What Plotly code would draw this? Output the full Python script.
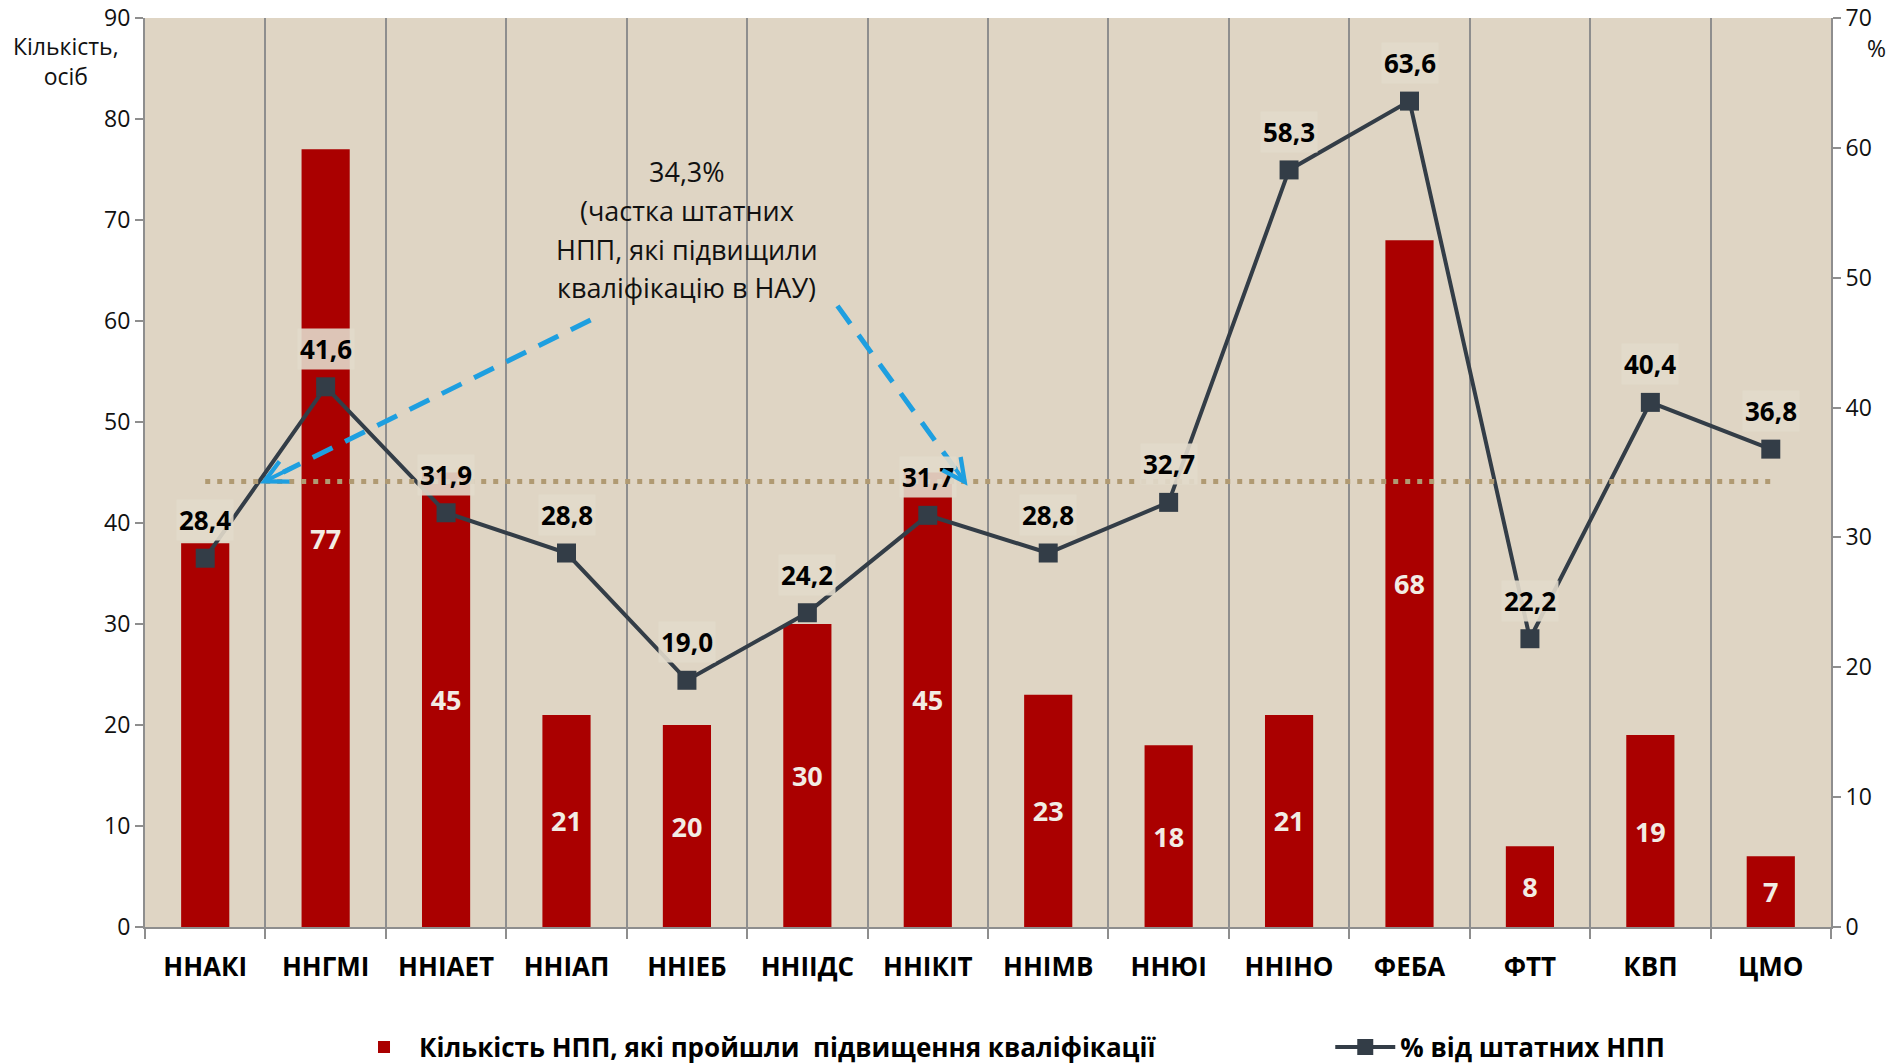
import plotly.graph_objects as go

# Institutes / faculties
categories = ["ННАКІ", "ННГМІ", "ННІАЕТ", "ННІАП", "ННІЕБ", "ННІІДС", "ННІКІТ",
              "ННІМВ", "ННЮІ", "ННІНО", "ФЕБА", "ФТТ", "КВП", "ЦМО"]
# Number of teaching staff who completed professional development
staff_count = [38, 77, 45, 21, 20, 30, 45, 23, 18, 21, 68, 8, 19, 7]
# Share of full-time teaching staff, %
staff_share = [28.4, 41.6, 31.9, 28.8, 19.0, 24.2, 31.7, 28.8, 32.7, 58.3, 63.6, 22.2, 40.4, 36.8]
# University-wide share, %
overall_share = 34.3
note_lines = ["34,3%", "(частка штатних", "НПП, які підвищили", "кваліфікацію в НАУ)"]

bar_name = "Кількість НПП, які пройшли  підвищення кваліфікації"
line_name = "% від штатних НПП"

FONT = "Open Sans, Noto Sans, DejaVu Sans, sans-serif"
BAR_COLOR = "#AA0000"
LINE_COLOR = "#333D47"
GRID = "#8E8E8E"
ARROW = "#1E9FE0"

bar_text = [""] + [str(v) for v in staff_count[1:]]

fig = go.Figure()
fig.add_trace(go.Bar(
    x=categories, y=staff_count, name=bar_name, legend="legend",
    marker=dict(color=BAR_COLOR, line=dict(width=0)),
    width=0.4,
    text=bar_text, textposition="inside", insidetextanchor="middle",
    textfont=dict(family=FONT, size=27, color="#F2ECE4", weight="bold"),
    cliponaxis=False,
))
fig.add_trace(go.Scatter(
    x=categories, y=staff_share, name=line_name, yaxis="y2", legend="legend2",
    mode="lines+markers",
    line=dict(color=LINE_COLOR, width=4),
    marker=dict(symbol="square", size=19, color=LINE_COLOR),
))

# Reference level across all units
fig.add_shape(type="line", xref="x", yref="y2",
              x0=0, x1=len(categories) - 1, y0=overall_share, y1=overall_share,
              line=dict(color="#B09A72", width=5, dash="5px,7px"), layer="above")

# Value labels above the line markers
for c, v in zip(categories, staff_share):
    fig.add_annotation(x=c, y=v, yref="y2", text=f"{v:.1f}".replace(".", ","),
                       showarrow=False, yshift=38,
                       font=dict(family=FONT, size=26, color="#000000", weight="bold"),
                       bgcolor="rgba(226,218,203,0.9)", borderpad=2)

# Note text
note_y = [74.8, 70.9, 67.1, 63.3]
for line, yy in zip(note_lines, note_y):
    fig.add_annotation(x=4, y=yy, xref="x", yref="y", text=line, showarrow=False,
                       font=dict(family=FONT, size=27, color="#111111"))

# Dashed pointers from the note to the reference level
pointers = [((3.2, 60.1), (0.455, 43.9)), ((5.25, 61.5), (6.33, 43.7))]
for (x0, y0), (x1, y1) in pointers:
    fig.add_shape(type="line", xref="x", yref="y", x0=x0, y0=y0,
                  x1=x0 + (x1 - x0) * 0.93, y1=y0 + (y1 - y0) * 0.93,
                  line=dict(color=ARROW, width=5, dash="22px,14px"), layer="above")
    fig.add_annotation(x=x1, y=y1, xref="x", yref="y",
                       ax=x0 + (x1 - x0) * 0.9, ay=y0 + (y1 - y0) * 0.9,
                       axref="x", ayref="y", text="", showarrow=True,
                       arrowhead=5, arrowsize=1.1, arrowwidth=4, arrowcolor=ARROW)

# Axis titles
fig.add_annotation(xref="paper", yref="paper", x=-0.047, y=0.953, xanchor="center",
                   yanchor="middle", text="Кількість,<br>осіб", showarrow=False,
                   font=dict(family=FONT, size=23, color="#111111"))
fig.add_annotation(xref="paper", yref="paper", x=1.027, y=0.967, xanchor="center",
                   yanchor="middle", text="%", showarrow=False,
                   font=dict(family=FONT, size=23, color="#111111"))

legend_font = dict(family=FONT, size=26, color="#000000", weight="bold")
fig.update_layout(
    width=1891, height=1064,
    margin=dict(l=145, r=60, t=18, b=137, autoexpand=False),
    paper_bgcolor="#FFFFFF", plot_bgcolor="#DFD5C4",
    font=dict(family=FONT, color="#111111"),
    showlegend=True,
    legend=dict(orientation="h", x=0.121, xanchor="left", y=-0.132, yanchor="middle",
                font=legend_font, bgcolor="rgba(0,0,0,0)", itemwidth=60),
    legend2=dict(orientation="h", x=0.703, xanchor="left", y=-0.132, yanchor="middle",
                 font=legend_font, bgcolor="rgba(0,0,0,0)", itemwidth=60),
    xaxis=dict(type="category", tickson="boundaries", range=[-0.5, len(categories) - 0.5],
               showgrid=True, gridcolor=GRID, gridwidth=2,
               showline=True, linecolor=GRID, linewidth=2,
               ticks="outside", ticklen=10, tickcolor=GRID, tickwidth=2,
               tickfont=dict(family=FONT, size=26, color="#000000", weight="bold"),
               ticklabelstandoff=16),
    yaxis=dict(range=[0, 90], dtick=10, showgrid=False, zeroline=False,
               showline=True, linecolor=GRID, linewidth=2,
               ticks="outside", ticklen=8, tickcolor=GRID, tickwidth=2,
               tickfont=dict(family=FONT, size=23, color="#111111")),
    yaxis2=dict(range=[0, 70], dtick=10, overlaying="y", side="right",
                showgrid=False, zeroline=False,
                showline=True, linecolor=GRID, linewidth=2,
                ticks="outside", ticklen=8, tickcolor=GRID, tickwidth=2,
                tickfont=dict(family=FONT, size=23, color="#111111")),
)

fig.write_html("out.html")
